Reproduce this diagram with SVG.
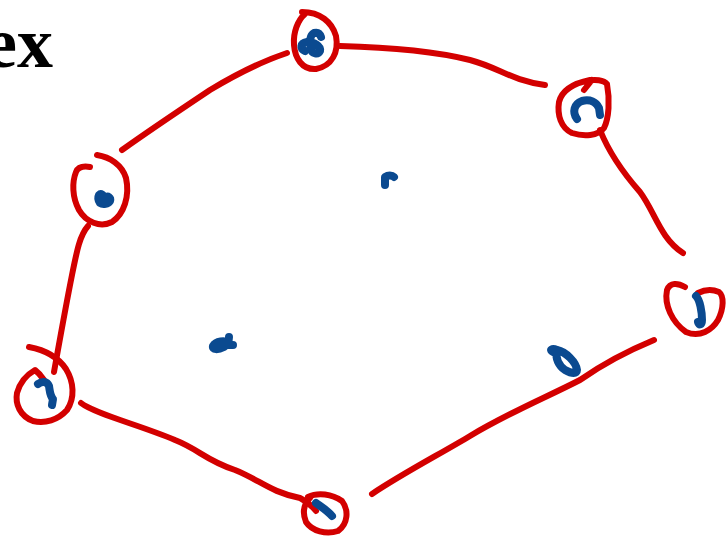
<svg xmlns="http://www.w3.org/2000/svg" width="727" height="536" viewBox="0 0 727 536">
<style>
.r{fill:none;stroke:#d30000;stroke-width:6;stroke-linecap:round;stroke-linejoin:round}
.b{fill:none;stroke:#0b4a90;stroke-width:8;stroke-linecap:round;stroke-linejoin:round}
.t{font-family:"Liberation Serif",serif;font-weight:bold;font-size:72px;fill:#000}
</style>
<rect width="727" height="536" fill="#fff"/>
<text class="t" x="-15" y="67">ex</text>
<g id="connectors">
<path class="r" d="M340,46 C380,47 430,50 470,60 C500,68 510,80 545,85"/>
<path class="r" d="M600,130 C610,155 625,175 640,192 C655,212 660,238 683,253"/>
<path class="r" d="M654,340 C625,352 600,366 580,380 C545,398 510,412 470,436 C440,454 400,475 372,494"/>
<path class="r" d="M81,403 C95,414 140,425 175,440 C200,450 205,460 235,470 C260,480 270,492 300,498 C308,502 312,506 316,511"/>
<path class="r" d="M54,372 C58,350 65,310 72,275 C77,250 80,235 88,226"/>
<path class="r" d="M122,150 C150,130 180,110 210,90 C235,75 260,62 287,53"/>
</g>
<g id="node-a">
<path class="r" d="M302,12 C320,12 332,22 336,36 C339,52 332,66 316,69 C302,70 295,58 294,45 C293,32 298,20 305,14"/>
<path class="b" d="M305,51 C300,49 300,43 307,42 C314,42 321,46 320,51 C318,55 312,54 311,49 C309,42 310,35 314,33 C318,32 320,34 321,37"/>
</g>
<g id="node-c">
<path class="r" d="M586,81 C595,79 604,80 607,84 C610,100 609,118 604,128 C598,136 584,137 572,133 C561,128 557,115 559,102 C562,90 575,83 590,80 M584,90 L592,80"/>
<path class="b" d="M577,119 C572,112 574,104 582,101 C590,99 596,102 599,108 L600,115"/>
</g>
<g id="node-d">
<path class="r" d="M685,287 C678,283 670,282 667,290 C664,305 672,322 686,332 C700,338 712,330 718,320 C724,308 724,296 719,292 C712,289 704,290 698,293"/>
<path class="b" d="M696,296 C700,300 702,312 702,320 C702,325 699,326 698,322"/>
</g>
<g id="node-h">
<path class="r" d="M308,497 C318,492 332,494 342,501 C349,510 348,524 338,531 C326,535 312,531 306,522 C302,512 304,504 310,498"/>
<path class="b" d="M316,503 C320,506 327,510 332,516"/>
</g>
<g id="node-e">
<path class="r" d="M29,347 C45,350 58,357 66,369 C74,382 75,398 67,410 C58,420 45,424 33,421 C20,416 15,404 17,393 C20,382 28,374 35,370 C39,373 42,377 44,380"/>
<path class="b" d="M38,384 C42,381 47,381 49,386 C50,392 50,396 53,399 L52,405"/>
</g>
<g id="node-b">
<path class="b" d="M99,195 C101,193 104,195 105,198 C108,195 111,198 110,201 C108,204 103,205 100,203 C98,200 98,197 99,195 Z" fill="#0b4a90"/>
<path class="r" d="M97,155 C110,157 122,165 126,178 C130,196 124,214 112,222 C100,228 86,222 79,210 C72,197 72,182 76,172 C78,167 84,166 90,167"/>
</g>
<g id="marks">
<path class="b" d="M385,185 L385,177 C388,175 392,175 394,177"/>
<path class="b" d="M229,343 C225,340 216,341 213,346 C212,350 218,350 224,347 C227,345 229,341 229,337 M226,345 L233,345"/>
<path class="b" d="M553,352 C549,350 552,348 557,350 C566,352 576,362 577,370 C577,374 572,374 565,370 C559,366 555,358 557,352"/>
</g>
</svg>
